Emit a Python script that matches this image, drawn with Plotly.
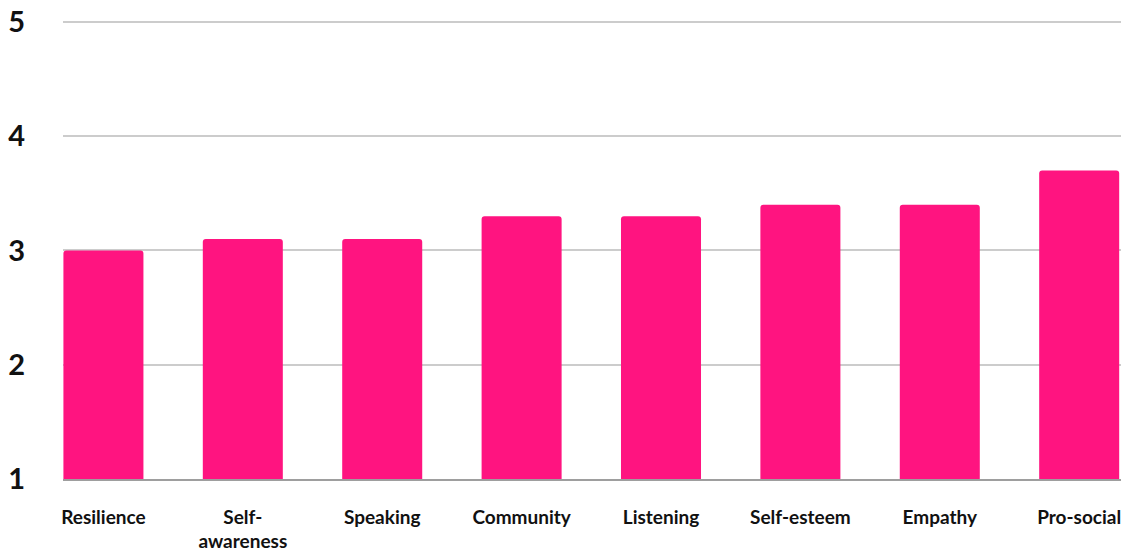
import plotly.graph_objects as go

categories = ["Resilience", "Self-<br>awareness", "Speaking", "Community",
              "Listening", "Self-esteem", "Empathy", "Pro-social"]
scores = [3.0, 3.1, 3.1, 3.3, 3.3, 3.4, 3.4, 3.7]
y_ticks = [1, 2, 3, 4, 5]

fig = go.Figure(
    go.Bar(
        x=categories,
        y=scores,
        marker=dict(color="#FF1480", line=dict(width=0)),
        hoverinfo="skip",
    )
)

fig.update_layout(
    width=1134,
    height=551,
    margin=dict(l=63, r=13, t=19, b=72, autoexpand=False),
    paper_bgcolor="white",
    plot_bgcolor="white",
    bargap=0.426,
    barcornerradius=3,
    showlegend=False,
    font=dict(family="Lato", color="#111111"),
)

fig.update_xaxes(
    range=[-0.29, 7.3],
    automargin=False,
    showgrid=False,
    showline=True,
    linecolor="#9e9e9e",
    linewidth=1.5,
    ticks="",
    tickfont=dict(size=19, family="Lato", weight="bold", color="#111111"),
    ticklabelstandoff=20,
    fixedrange=True,
)

# a little headroom above 5 so its grid line is kept
fig.update_yaxes(
    range=[1, 5.026],
    automargin=False,
    tickvals=y_ticks,
    showgrid=True,
    gridcolor="#cccccc",
    gridwidth=1.5,
    zeroline=False,
    showline=False,
    ticks="",
    tickfont=dict(size=29, family="Lato", weight="bold", color="#111111"),
    ticklabelstandoff=37,
    fixedrange=True,
)

fig.write_html("out.html")
